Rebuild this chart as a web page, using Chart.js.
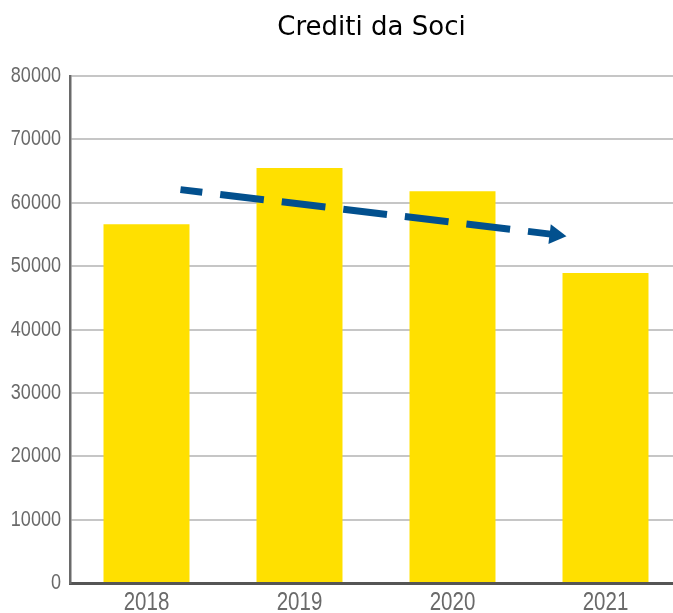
<!DOCTYPE html>
<html>
<head>
<meta charset="utf-8">
<script src="https://cdn.jsdelivr.net/npm/chart.js@4"></script>
<style>
  html, body { margin: 0; padding: 0; background: #fff; overflow: hidden; }
  #wrap { width: 673px; height: 613px; overflow: hidden; }
</style>
</head>
<body>
<div id="wrap"><canvas id="chart" width="683" height="613"></canvas></div>
<script>
const chartTitle = "Crediti da Soci";
const years = ["2018", "2019", "2020", "2021"];
const crediti = [56600, 65500, 61800, 48900];

// trend arrow: x as category index, y as value
const trendX = [0.222, 2.745];
const trendY = [62070, 54730];

const visibleWidth = 673;
const squeeze = 0.82; // condensed look for tick labels

const trendArrow = {
  id: "trendArrow",
  afterDatasetsDraw(chart) {
    const { ctx, scales: { x, y } } = chart;
    const x0 = x.getPixelForValue(trendX[0]), y0 = y.getPixelForValue(trendY[0]);
    const x1 = x.getPixelForValue(trendX[1]), y1 = y.getPixelForValue(trendY[1]);
    const ang = Math.atan2(y1 - y0, x1 - x0);
    const head = 17;
    const bx = x1 - head * Math.cos(ang), by = y1 - head * Math.sin(ang);
    ctx.save();
    ctx.strokeStyle = "#02508e";
    ctx.fillStyle = "#02508e";
    ctx.lineWidth = 7;
    ctx.setLineDash([44, 18]);
    ctx.lineDashOffset = 22;
    ctx.beginPath();
    ctx.moveTo(x0, y0);
    ctx.lineTo(bx + 1, by);
    ctx.stroke();
    ctx.setLineDash([]);
    ctx.beginPath();
    ctx.moveTo(x1, y1);
    ctx.lineTo(bx + 10 * Math.sin(ang), by - 10 * Math.cos(ang));
    ctx.lineTo(bx - 10 * Math.sin(ang), by + 10 * Math.cos(ang));
    ctx.closePath();
    ctx.fill();
    ctx.restore();
  }
};

// narrow tick labels and a title centred over the plot
const labelsAndTitle = {
  id: "labelsAndTitle",
  afterDraw(chart) {
    const { ctx, chartArea, scales: { x, y } } = chart;
    ctx.save();
    ctx.fillStyle = "#6a6a6a";

    ctx.font = "22px 'Liberation Sans'";
    ctx.textAlign = "right";
    ctx.textBaseline = "middle";
    y.ticks.forEach((t, i) => {
      const py = y.getPixelForTick(i);
      ctx.save();
      ctx.translate(chartArea.left - 9, py);
      ctx.scale(squeeze, 1);
      ctx.fillText(String(t.value), 0, 0);
      ctx.restore();
    });

    ctx.font = "25px 'Liberation Sans'";
    ctx.textAlign = "center";
    ctx.textBaseline = "top";
    x.ticks.forEach((t, i) => {
      const px = x.getPixelForTick(i);
      ctx.save();
      ctx.translate(px, chartArea.bottom + 8);
      ctx.scale(squeeze, 1);
      ctx.fillText(years[i], 0, 0);
      ctx.restore();
    });

    ctx.fillStyle = "#000";
    ctx.font = "26px 'DejaVu Sans'";
    ctx.textAlign = "center";
    ctx.textBaseline = "middle";
    ctx.fillText(chartTitle, (chartArea.left + visibleWidth) / 2, 28);
    ctx.restore();
  }
};

new Chart(document.getElementById("chart"), {
  type: "bar",
  data: {
    labels: years,
    datasets: [{
      label: chartTitle,
      data: crediti,
      backgroundColor: "#ffe000",
      categoryPercentage: 1,
      barPercentage: 0.562
    }]
  },
  options: {
    responsive: false,
    animation: false,
    layout: { padding: { left: 0, right: 1, top: 76, bottom: 0 } },
    plugins: {
      legend: { display: false },
      tooltip: { enabled: false },
      title: { display: false }
    },
    scales: {
      x: {
        grid: { color: "transparent", drawTicks: false },
        border: { display: true, color: "#555", width: 3 },
        ticks: { display: false },
        afterFit(scale) { scale.height = 30; }
      },
      y: {
        min: 0,
        max: 80000,
        grid: { color: "#c6c6c6", lineWidth: 2, drawTicks: false },
        border: { display: true, color: "#6a6a6a", width: 2.5 },
        ticks: { display: false, stepSize: 10000 },
        afterFit(scale) { scale.width = 70; }
      }
    }
  },
  plugins: [trendArrow, labelsAndTitle]
});
</script>
</body>
</html>
